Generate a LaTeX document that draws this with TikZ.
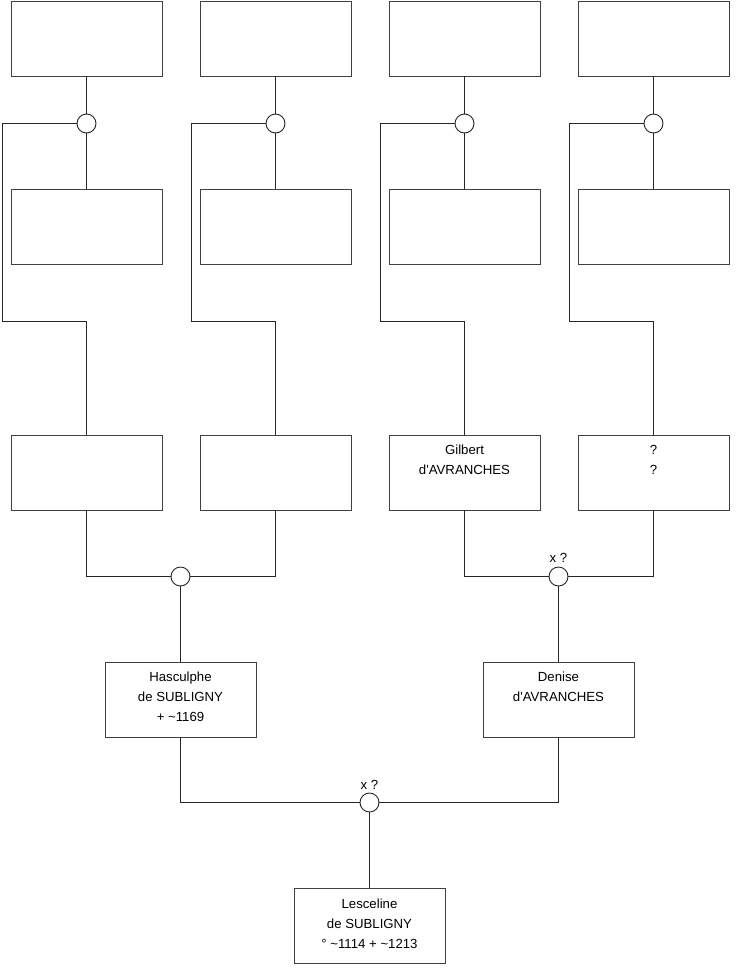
\documentclass[tikz,border=0pt]{standalone}
\usepackage{fontspec}
\setmainfont{Liberation Sans}
\begin{document}
\begin{tikzpicture}[x=1pt,y=-1pt,
  box/.style={draw=black!75,line width=0.9pt,minimum width=151pt,minimum height=75pt,inner sep=0pt,fill=white},
  ring/.style={draw=black!85,line width=0.9pt,circle,minimum size=19pt,inner sep=0pt,fill=white},
  txt/.style={font=\fontsize{13.2}{20}\selectfont,align=center,anchor=north,inner sep=0pt},
  lbl/.style={font=\fontsize{13.2}{15}\selectfont,inner sep=0pt},
  link/.style={draw=black!85,line width=0.9pt}]
\useasboundingbox (0,0) rectangle (740,975);
% top row boxes
\node[box] (t1) at (86.5,38.5) {};
\node[box] (t2) at (275.5,38.5) {};
\node[box] (t3) at (464.5,38.5) {};
\node[box] (t4) at (653.5,38.5) {};
% middle row boxes
\node[box] (m1) at (86.5,227) {};
\node[box] (m2) at (275.5,227) {};
\node[box] (m3) at (464.5,227) {};
\node[box] (m4) at (653.5,227) {};
% third row boxes
\node[box] (r1) at (86.5,472.5) {};
\node[box] (r2) at (275.5,472.5) {};
\node[box] (r3) at (464.5,472.5) {};
\node[box] (r4) at (653.5,472.5) {};
\node[txt] (r3t) at ([yshift=-10.4pt]r3.north) {Gilbert\\d\textquotesingle AVRANCHES};
\node[txt] (r4t) at ([yshift=-10.4pt]r4.north) {?\\?};
% fourth row
\node[box] (h) at (180.5,699.5) {};
\node[txt] (ht) at ([yshift=-10.4pt]h.north) {Hasculphe\\de SUBLIGNY\\+ \textasciitilde1169};
\node[box] (dn) at (558.5,699.5) {};
\node[txt] (dnt) at ([yshift=-10.4pt]dn.north) {Denise\\d\textquotesingle AVRANCHES};
% bottom
\node[box] (l) at (369.5,926) {};
\node[txt] (lt) at ([yshift=-10.4pt]l.north) {Lesceline\\de SUBLIGNY\\° \textasciitilde1114 + \textasciitilde1213};
% circles
\node[ring] (c1) at (86.5,123.5) {};
\node[ring] (c2) at (275.5,123.5) {};
\node[ring] (c3) at (464.5,123.5) {};
\node[ring] (c4) at (653.5,123.5) {};
\node[ring] (d1) at (180.5,576.5) {};
\node[ring] (d2) at (558.5,576.5) {};
\node[ring] (e) at (369.5,802.5) {};
\node[lbl] (d2l) at (558.5,558) {x ?};
\node[lbl] (el) at (369.5,785) {x ?};
% connectors
\path[link] (t1.south) -- (c1.north);
\path[link] (t2.south) -- (c2.north);
\path[link] (t3.south) -- (c3.north);
\path[link] (t4.south) -- (c4.north);
\path[link] (c1.south) -- (m1.north);
\path[link] (c2.south) -- (m2.north);
\path[link] (c3.south) -- (m3.north);
\path[link] (c4.south) -- (m4.north);
\path[link] (c1.west) -- (2,123.5) -- (2,321.5) -- (86.5,321.5) -- (r1.north);
\path[link] (c2.west) -- (191,123.5) -- (191,321.5) -- (275.5,321.5) -- (r2.north);
\path[link] (c3.west) -- (380,123.5) -- (380,321.5) -- (464.5,321.5) -- (r3.north);
\path[link] (c4.west) -- (569,123.5) -- (569,321.5) -- (653.5,321.5) -- (r4.north);
\path[link] (r1.south) |- (d1.west);
\path[link] (r2.south) |- (d1.east);
\path[link] (r3.south) |- (d2.west);
\path[link] (r4.south) |- (d2.east);
\path[link] (d1.south) -- (h.north);
\path[link] (d2.south) -- (dn.north);
\path[link] (h.south) |- (e.west);
\path[link] (dn.south) |- (e.east);
\path[link] (e.south) -- (l.north);
\end{tikzpicture}
\end{document}
